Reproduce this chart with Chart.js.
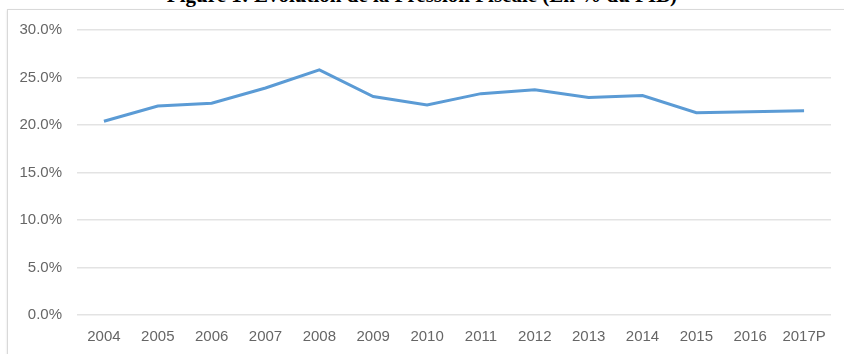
<!DOCTYPE html>
<html>
<head>
<meta charset="utf-8">
<script src="https://cdn.jsdelivr.net/npm/chart.js@4"></script>
<style>
    html, body { margin: 0; padding: 0; background: #fff; }
    #wrap { position: relative; width: 844px; height: 354px; overflow: hidden; }
    #title {
        position: absolute; left: 0; top: -15px; width: 844px;
        text-align: center; line-height: 1;
        font-family: "Liberation Serif", "Times New Roman", serif;
        font-weight: bold; font-size: 21px; color: #000;
    }
    #frame {
        position: absolute; left: 7px; top: 9px; width: 900px; height: 400px;
        border: 1px solid #d9d9d9; box-shadow: 0 1px 2px rgba(0,0,0,0.12);
    }
    #pressionChart { position: absolute; left: 0; top: 0; }
</style>
</head>
<body>
<div id="wrap">
    <div id="title">Figure 1: Evolution de la Pression Fiscale (En % du PIB)</div>
    <div id="frame"></div>
    <canvas id="pressionChart" width="844" height="354"></canvas>
</div>
<script>
// pression fiscale, en % du PIB
const years = ['2004', '2005', '2006', '2007', '2008', '2009', '2010', '2011', '2012', '2013', '2014', '2015', '2016', '2017P'];
const pression = [20.4, 22.0, 22.3, 23.9, 25.8, 23.0, 22.1, 23.3, 23.7, 22.9, 23.1, 21.3, 21.4, 21.5];
const yTicks = [0, 5, 10, 15, 20, 25, 30];

function draw() {
    const data = {
        labels: years,
        datasets: [
            {
                label: 'Pression fiscale',
                data: pression,
                borderColor: '#5b9bd5',
                backgroundColor: '#5b9bd5',
                borderWidth: 3,
                pointRadius: 0,
                tension: 0,
                fill: false,
            },
        ],
    };

    new Chart(document.getElementById('pressionChart'), {
        type: 'line',
        data: data,
        options: {
            responsive: false,
            animation: false,
            devicePixelRatio: 1,
            layout: { padding: { left: 0, right: 13, top: 30, bottom: 0 } },
            plugins: {
                legend: { display: false },
                tooltip: { enabled: false },
            },
            scales: {
                x: {
                    offset: true,
                    grid: { display: false, drawTicks: false },
                    border: { display: false },
                    ticks: {
                        padding: 13,
                        color: '#666',
                        maxRotation: 0,
                        autoSkip: false,
                        font: { family: 'Liberation Sans', size: 15 },
                    },
                    afterFit: function(scale) { scale.height = 39; },
                },
                y: {
                    min: 0,
                    max: 30,
                    afterBuildTicks: function(scale) {
                        scale.ticks = yTicks.map(v => ({ value: v }));
                    },
                    grid: { color: '#e3e3e3', lineWidth: 1.5, drawTicks: false },
                    border: { display: false },
                    ticks: {
                        padding: 15,
                        color: '#666',
                        font: { family: 'Liberation Sans', size: 15 },
                        callback: function(v) { return v.toFixed(1) + '%'; },
                    },
                    afterFit: function(scale) { scale.width = 77; },
                },
            },
        },
    });
}

draw();
</script>
</body>
</html>
